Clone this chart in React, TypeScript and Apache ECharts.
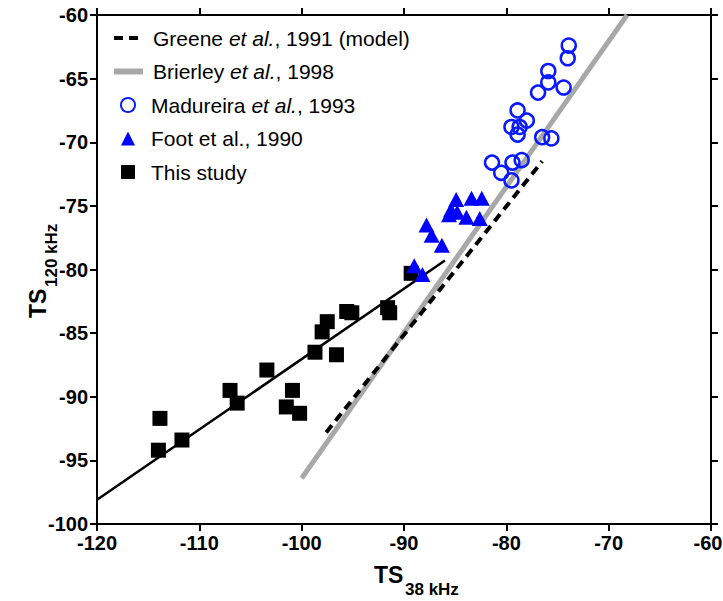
import React, { useEffect, useRef } from "react";
import * as echarts from "echarts";

// Axis ticks
const xTicks = [-120, -110, -100, -90, -80, -70, -60];
const yTicks = [-100, -95, -90, -85, -80, -75, -70, -65, -60];

// Greene et al., 1991 (model) line
const greeneX = [-97.6, -76.5];
const greeneY = [-92.8, -71.5];
// Brierley et al., 1998 line
const brierleyX = [-100.0, -68.2];
const brierleyY = [-96.4, -60.0];
// This study regression line
const fitX = [-120.0, -86.0];
const fitY = [-98.1, -79.3];

// This study (squares)
const studyX = [-113.85, -114.0, -111.7, -107.0, -106.3, -103.4, -100.9, -101.5, -100.2, -98.7, -96.6, -98.0, -97.5, -95.6, -95.1, -91.6, -91.4, -89.3];
const studyY = [-91.7, -94.2, -93.4, -89.5, -90.5, -87.9, -89.5, -90.8, -91.3, -86.5, -86.7, -84.9, -84.1, -83.3, -83.4, -83.0, -83.4, -80.3];

// Foot et al., 1990 (triangles)
const footX = [-84.9, -83.4, -82.4, -85.4, -84.8, -85.6, -83.9, -82.6, -87.8, -87.3, -86.3, -89.0, -88.2];
const footY = [-74.5, -74.4, -74.4, -75.3, -75.5, -75.7, -75.9, -76.0, -76.5, -77.3, -78.1, -79.7, -80.4];

// Madureira et al., 1993 (open circles)
const madX = [-73.9, -74.0, -75.9, -75.9, -74.4, -76.9, -78.9, -78.0, -79.5, -78.7, -78.9, -76.5, -75.6, -81.4, -79.4, -78.5, -80.5, -79.5];
const madY = [-62.4, -63.4, -64.4, -65.3, -65.7, -66.1, -67.5, -68.3, -68.8, -68.8, -69.4, -69.6, -69.7, -71.6, -71.6, -71.4, -72.4, -73.0];

const lineNames = ["Greene et al., 1991 (model)", "Brierley et al., 1998"];
const markerNames = ["Madureira et al., 1993", "Foot et al., 1990", "This study"];

const zip = (xs: number[], ys: number[]) => xs.map((x, i) => [x, ys[i]]);

const FONT = "'Liberation Sans', Arial, sans-serif";

const legendFormatter = (name: string) => {
  const m = name.match(/^(.*?)et al\.(.*)$/);
  if (m && !name.startsWith("Foot")) return `${m[1]}{i|et al.}${m[2]}`;
  return name;
};

const legendText = (padLeft: number) => ({
  fontFamily: FONT,
  fontSize: 21,
  color: "#000",
  lineHeight: 21,
  padding: [0, 0, 0, padLeft],
  rich: {
    i: { fontFamily: FONT, fontSize: 21, fontStyle: "italic", color: "#000", lineHeight: 21 },
  },
});

export default function App() {
  const ref = useRef<HTMLDivElement>(null);
  useEffect(() => {
    if (!ref.current) return;
    const chart = echarts.init(ref.current, undefined, { renderer: "svg" });
    const axisCommon = {
      type: "value" as const,
      splitLine: { show: false },
      axisLine: { show: true, onZero: false, lineStyle: { color: "#000", width: 2 } },
      axisTick: { show: true, inside: false, length: 7, lineStyle: { color: "#000", width: 2 } },
    };
    chart.setOption({
      animation: false,
      backgroundColor: "#fff",
      grid: { left: 97, right: 12, top: 15, bottom: 77, outerBoundsMode: "none", containLabel: false },
      xAxis: [
        {
          ...axisCommon,
          position: "bottom",
          min: -120,
          max: -60,
          interval: 10,
          axisLabel: {
            show: true,
            margin: 9,
            color: "#000",
            fontFamily: FONT,
            fontWeight: "bold",
            fontSize: 20,
            formatter: (v: number) =>
              xTicks.includes(v) ? (v === -60 ? `{r|${v}}` : String(v)) : "",
            rich: {
              r: { fontFamily: FONT, fontWeight: "bold", fontSize: 20, color: "#000", padding: [0, 6, 0, 0] },
            },
          },
        },
        {
          ...axisCommon,
          position: "top",
          min: -120,
          max: -60,
          interval: 10,
          axisLabel: { show: false },
        },
      ],
      yAxis: [
        {
          ...axisCommon,
          position: "left",
          min: -100,
          max: -60,
          interval: 5,
          axisLabel: {
            show: true,
            margin: 9,
            color: "#000",
            fontFamily: FONT,
            fontWeight: "bold",
            fontSize: 20,
            formatter: (v: number) => (yTicks.includes(v) ? String(v) : ""),
          },
        },
        {
          ...axisCommon,
          position: "right",
          min: -100,
          max: -60,
          interval: 5,
          axisLabel: { show: false },
        },
      ],
      legend: [
        {
          orient: "vertical",
          left: 111,
          top: 27.5,
          padding: 0,
          itemWidth: 29,
          itemHeight: 14,
          itemGap: 12.5,
          data: [
            { name: lineNames[0], itemStyle: { opacity: 0 }, lineStyle: { color: "#000", width: 4, type: [9, 6] } },
            { name: lineNames[1], itemStyle: { opacity: 0 }, lineStyle: { color: "#a8a8a8", width: 6 } },
          ],
          formatter: legendFormatter,
          textStyle: legendText(5),
        },
        {
          orient: "vertical",
          left: 120,
          top: 94.5,
          padding: 0,
          itemWidth: 14,
          itemHeight: 14,
          itemGap: 12.5,
          data: markerNames,
          formatter: legendFormatter,
          textStyle: legendText(11),
        },
      ],
      graphic: [
        {
          type: "text",
          x: 374,
          y: 575,
          style: { text: "TS", font: `bold 23px ${FONT}`, fill: "#000", textAlign: "left", textVerticalAlign: "middle" },
        },
        {
          type: "text",
          x: 405,
          y: 589,
          style: { text: "38 kHz", font: `bold 17px ${FONT}`, fill: "#000", textAlign: "left", textVerticalAlign: "middle" },
        },
        {
          type: "text",
          x: 38,
          y: 318,
          rotation: Math.PI / 2,
          style: { text: "TS", font: `bold 23px ${FONT}`, fill: "#000", textAlign: "left", textVerticalAlign: "middle" },
        },
        {
          type: "text",
          x: 51,
          y: 287,
          rotation: Math.PI / 2,
          style: { text: "120 kHz", font: `bold 17px ${FONT}`, fill: "#000", textAlign: "left", textVerticalAlign: "middle" },
        },
      ],
      series: [
        {
          name: "Greene et al., 1991 (model)",
          type: "line",
          data: zip(greeneX, greeneY),
          symbol: "none",
          lineStyle: { color: "#000", width: 4, type: [9, 6] },
          itemStyle: { color: "#000" },
          z: 2,
        },
        {
          name: "Brierley et al., 1998",
          type: "line",
          data: zip(brierleyX, brierleyY),
          symbol: "none",
          lineStyle: { color: "#a8a8a8", width: 5 },
          itemStyle: { color: "#a8a8a8" },
          z: 1,
        },
        {
          name: "fit",
          type: "line",
          data: zip(fitX, fitY),
          symbol: "none",
          lineStyle: { color: "#000", width: 2.5 },
          z: 3,
        },
        {
          name: "Madureira et al., 1993",
          type: "scatter",
          data: zip(madX, madY),
          symbol: "circle",
          symbolSize: 14,
          itemStyle: { color: "rgba(0,0,0,0)", borderColor: "#0a1aff", borderWidth: 2.5, opacity: 1 },
          z: 4,
        },
        {
          name: "Foot et al., 1990",
          type: "scatter",
          data: zip(footX, footY),
          symbol: "triangle",
          symbolSize: [16, 15],
          itemStyle: { color: "#0000ff", opacity: 1 },
          z: 5,
        },
        {
          name: "This study",
          type: "scatter",
          data: zip(studyX, studyY),
          symbol: "rect",
          symbolSize: 15,
          itemStyle: { color: "#000", opacity: 1 },
          z: 4,
        },
      ],
    });
    return () => chart.dispose();
  }, []);
  return (
    <div
      ref={ref}
      style={{ position: "absolute", left: 0, top: 0, width: 723, height: 601 }}
    />
  );
}
